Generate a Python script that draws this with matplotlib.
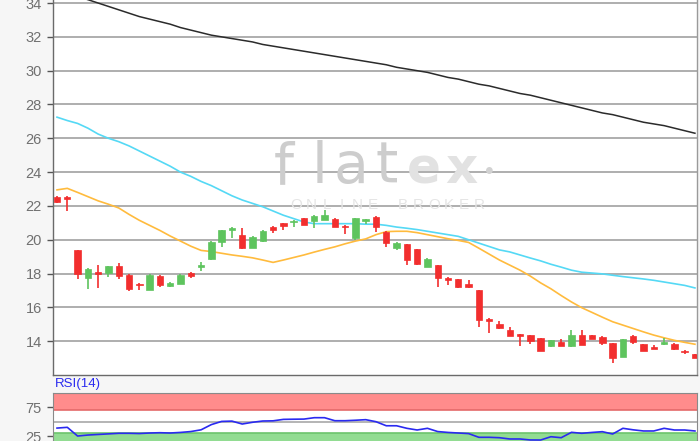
import numpy as np
import matplotlib
matplotlib.use("Agg")
from matplotlib import pyplot as plt

# ---------------------------- Chart data ---------------------------- #

opens = [22.50, 22.50, 19.38, 17.71, 18.06, 18.04, 18.44, 17.90, 17.40, 17.00,
         17.85, 17.27, 17.40, 18.06, 18.40, 18.85, 19.84, 20.60, 20.27, 19.54,
         19.90, 20.77, 20.97, 21.02, 21.26, 21.12, 21.16, 21.20, 20.80, 20.08,
         21.12, 21.37, 20.47, 19.49, 19.74, 19.43, 18.40, 18.50, 17.76, 17.67,
         17.41, 17.02, 15.34, 14.99, 14.69, 14.40, 14.36, 14.16, 13.70, 13.96,
         13.70, 14.36, 14.36, 14.26, 13.90, 13.07, 14.30, 13.82, 13.66, 13.82,
         13.86, 13.43, 13.23]
highs = [22.60, 22.60, 19.40, 18.30, 18.50, 18.45, 18.63, 17.95, 17.42, 17.98,
         17.90, 17.50, 17.95, 18.10, 18.70, 19.95, 20.60, 20.78, 20.67, 20.20,
         20.55, 20.80, 21.00, 21.15, 21.30, 21.45, 21.75, 21.30, 20.85, 21.28,
         21.25, 21.40, 20.50, 19.85, 19.76, 19.45, 18.90, 18.52, 17.80, 17.70,
         17.60, 17.05, 15.38, 15.20, 14.85, 14.42, 14.38, 14.18, 14.08, 14.10,
         14.69, 14.69, 14.38, 14.28, 13.92, 14.14, 14.36, 13.84, 13.76, 14.20,
         13.88, 13.45, 13.25]
lows = [22.20, 21.70, 17.65, 17.10, 17.15, 17.80, 17.70, 16.95, 17.05, 17.00,
        17.20, 17.22, 17.38, 17.72, 18.15, 18.80, 19.58, 20.08, 19.45, 19.50,
        19.88, 20.40, 20.57, 20.73, 20.85, 20.67, 21.15, 20.75, 20.33, 20.00,
        20.92, 20.44, 19.58, 19.40, 18.50, 18.50, 18.38, 17.21, 17.30, 17.15,
        17.15, 14.85, 14.51, 14.75, 14.30, 13.70, 13.85, 13.40, 13.68, 13.70,
        13.68, 13.78, 14.10, 13.76, 12.72, 13.05, 13.85, 13.40, 13.52, 13.80,
        13.48, 13.23, 13.00]
closes = [22.25, 22.40, 17.95, 18.24, 18.00, 18.44, 17.85, 17.10, 17.30, 17.90,
          17.30, 17.47, 17.90, 17.86, 18.48, 19.87, 20.57, 20.67, 19.49, 20.18,
          20.50, 20.57, 20.80, 21.12, 20.86, 21.41, 21.45, 20.77, 20.73, 21.26,
          21.22, 20.77, 19.78, 19.82, 18.79, 18.56, 18.89, 17.71, 17.64, 17.18,
          17.18, 15.24, 15.20, 14.79, 14.33, 14.30, 14.02, 13.43, 14.06, 13.72,
          14.36, 13.80, 14.12, 13.90, 13.01, 14.12, 13.96, 13.43, 13.55, 13.96,
          13.51, 13.37, 13.03]

# moving averages
ma_long = [34.80, 34.60, 34.40, 34.20, 34.00, 33.80, 33.60, 33.40, 33.20, 33.05,
           32.90, 32.75, 32.55, 32.40, 32.25, 32.10, 32.00, 31.90, 31.80, 31.70,
           31.55, 31.45, 31.35, 31.25, 31.15, 31.05, 30.95, 30.85, 30.75, 30.65,
           30.55, 30.45, 30.35, 30.20, 30.10, 30.00, 29.90, 29.75, 29.60, 29.50,
           29.35, 29.20, 29.10, 28.95, 28.80, 28.65, 28.55, 28.40, 28.25, 28.10,
           27.95, 27.80, 27.65, 27.50, 27.40, 27.25, 27.10, 26.95, 26.85, 26.75,
           26.60, 26.45, 26.30]
ma_mid = [27.25, 27.05, 26.88, 26.60, 26.25, 26.00, 25.80, 25.55, 25.25, 24.95,
          24.65, 24.35, 24.00, 23.75, 23.45, 23.20, 22.90, 22.60, 22.35, 22.15,
          21.95, 21.70, 21.45, 21.25, 21.05, 20.95, 20.95, 20.95, 20.95, 20.95,
          20.92, 20.92, 20.85, 20.75, 20.68, 20.60, 20.50, 20.40, 20.30, 20.20,
          20.00, 19.80, 19.60, 19.40, 19.28, 19.10, 18.92, 18.75, 18.55, 18.38,
          18.20, 18.08, 18.03, 17.98, 17.90, 17.82, 17.75, 17.68, 17.60, 17.50,
          17.40, 17.30, 17.15]
ma_short = [22.95, 23.04, 22.80, 22.55, 22.30, 22.10, 21.88, 21.50, 21.15, 20.85,
            20.55, 20.22, 19.92, 19.62, 19.37, 19.30, 19.20, 19.10, 19.02, 18.93,
            18.80, 18.66, 18.80, 18.95, 19.10, 19.27, 19.43, 19.58, 19.76, 19.92,
            20.05, 20.30, 20.48, 20.50, 20.50, 20.42, 20.30, 20.18, 20.06, 19.96,
            19.84, 19.50, 19.15, 18.80, 18.50, 18.20, 17.85, 17.45, 17.10, 16.70,
            16.32, 15.98, 15.70, 15.42, 15.15, 14.95, 14.75, 14.55, 14.36, 14.20,
            14.05, 13.93, 13.82]

rsi = [39.0, 40.3, 25.3, 27.0, 28.0, 29.0, 30.0, 30.0, 29.6, 30.5,
       31.0, 30.5, 31.5, 33.0, 36.0, 45.0, 50.5, 51.0, 46.0, 49.0,
       51.2, 51.5, 54.0, 54.3, 54.5, 56.9, 56.9, 51.7, 51.7, 52.5,
       53.5, 50.0, 43.0, 43.0, 38.6, 35.7, 38.6, 33.0, 31.5, 30.5,
       29.5, 23.1, 23.1, 22.4, 20.2, 20.2, 18.5, 18.4, 24.1, 22.4,
       31.7, 30.0, 31.5, 32.8, 28.8, 38.6, 36.0, 34.0, 34.0, 38.6,
       35.7, 35.7, 34.0]

price_ticks = [14, 16, 18, 20, 22, 24, 26, 28, 30, 32, 34]
rsi_ticks = [25, 75]

# ---------------------------- Figure ---------------------------- #

W, H = 700, 441
fig = plt.figure(figsize=(7, 4.41), dpi=100, facecolor="#f6f6f6")
plt.rcParams["font.family"] = ["Liberation Sans", "DejaVu Sans"]

left, right = 53 / W, 697 / W
ax = fig.add_axes([left, 1 - 375 / H, right - left, 375 / H])
rax = fig.add_axes([left, 1 - 450.7 / H, right - left, 58 / H])

x = np.arange(len(opens))
up_color, down_color = "#5ec45e", "#f22e2e"

# ---- price panel ----
ax.set_facecolor("white")
for yv in price_ticks:
    ax.axhline(yv, color="#a8a8a8", lw=1.3, zorder=1)

ax.plot(x, ma_long, color="#2b2b2b", lw=1.1, zorder=3)
ax.plot(x, ma_mid, color="#55d9f5", lw=1.2, zorder=3)
ax.plot(x, ma_short, color="#ffbb3d", lw=1.2, zorder=3)

for i in x:
    o, h, l, c = opens[i], highs[i], lows[i], closes[i]
    col = up_color if c >= o else down_color
    ax.vlines(i, l, h, color=col, lw=1.2, zorder=4)
    body = max(abs(c - o), 0.07)
    ax.bar(i, body, bottom=min(o, c), width=0.62, color=col,
           edgecolor=col, lw=0.5, zorder=5)

ax.set_xlim(-0.39, 62.2)
ax.set_ylim(12.0, 34.18)
ax.set_yticks(price_ticks)
ax.set_xticks([])
ax.tick_params(axis="y", length=4, width=1, color="#555555",
               labelsize=10.5, labelcolor="#707070", pad=4)
for side in ["left", "bottom", "right"]:
    ax.spines[side].set_color("#6a6a6a")
    ax.spines[side].set_linewidth(1.0)
ax.spines["top"].set_visible(False)
ax.spines["right"].set_color("#9a9a9a")

# ---- watermark ----
logo = [("f", 284, "#cdcdcd", "normal", 41), ("l", 320, "#cdcdcd", "normal", 41),
        ("a", 351, "#cdcdcd", "normal", 41), ("t", 387, "#cdcdcd", "normal", 41),
        ("e", 424, "#e2e2e2", "bold", 36), ("x", 461, "#e2e2e2", "bold", 36)]
for ch, px, col, wt, fs in logo:
    fig.text(px / W, 1 - 183 / H, ch, color=col, fontsize=fs, ha="center",
             va="baseline", family="DejaVu Sans", fontweight=wt, zorder=0.5)
fig.text(489 / W, 1 - 172 / H, "\u2022", color="#d2d2d2", fontsize=18,
         ha="center", va="center", zorder=0.5)
for k, ch in enumerate("ONLINE BROKER"):
    if ch == " ":
        continue
    fig.text((296 + k * 15.3) / W, 1 - 205 / H, ch, color="#e5e5e5",
             fontsize=11, ha="center", va="center", zorder=0.5)

# ---- RSI panel ----
rax.set_facecolor("white")
rax.axhspan(70, 100, color="#ff8c8c", lw=0, zorder=1)
rax.axhspan(0, 30, color="#92dc92", lw=0, zorder=1)
rax.axhline(70, color="#e46a6a", lw=1.2, zorder=2)
rax.axhline(99.3, color="#e46a6a", lw=1.5, zorder=2)
rax.axhline(30, color="#6cc46c", lw=1.2, zorder=2)
rax.axhline(50, color="#a8a8a8", lw=1.2, zorder=2)
rax.plot(x, rsi, color="#2a2af0", lw=1.2, zorder=3)

rax.set_xlim(-0.39, 62.2)
rax.set_ylim(0, 100)
rax.set_yticks(rsi_ticks)
rax.set_xticks([])
rax.tick_params(axis="y", length=4, width=1, color="#555555",
                labelsize=10.5, labelcolor="#707070", pad=4)
for side in ["left", "right", "bottom", "top"]:
    rax.spines[side].set_color("#8a8a8a")

fig.text(55 / W, 1 - 384 / H, "RSI(14)", color="#2a2af0", fontsize=9.5,
         ha="left", va="center")

fig.savefig("out.png", dpi=100, facecolor=fig.get_facecolor())
